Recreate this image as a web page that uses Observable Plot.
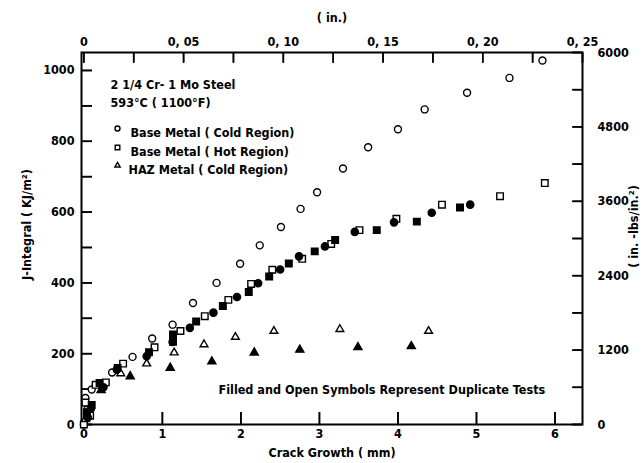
<!DOCTYPE html>
<html>
<head>
<meta charset="utf-8">
<script src="https://cdn.jsdelivr.net/npm/d3@7"></script>
<script src="https://cdn.jsdelivr.net/npm/@observablehq/plot@0.6"></script>
<style>
  html, body { margin: 0; padding: 0; background: #fff; }
  svg { display: block; }
</style>
</head>
<body>
<div id="chart"></div>
<script>
// ---- data (crack growth mm, J-integral kJ/m^2) ----
const openCircles = [[0,0],[0.02,75],[0.10,99],[0.36,147],[0.62,191],[0.87,243],[1.13,282],[1.39,343],[1.69,400],[1.99,454],[2.24,506],[2.51,558],[2.76,609],[2.97,656],[3.30,723],[3.62,783],[4.00,834],[4.34,890],[4.88,937],[5.42,979],[5.84,1028]];
const filledCircles = [[0.05,20],[0.09,45],[0.25,105],[0.42,155],[0.80,193],[1.13,233],[1.35,273],[1.65,316],[1.95,360],[2.22,399],[2.50,438],[2.74,475],[3.07,503],[3.45,544],[3.95,571],[4.43,598],[4.92,621]];
const openSquares = [[0,0],[0.02,62],[0.05,42],[0.08,25],[0.15,112],[0.28,119],[0.50,172],[0.90,218],[1.23,264],[1.54,306],[1.84,352],[2.13,397],[2.40,437],[2.78,468],[3.15,510],[3.51,549],[3.98,581],[4.56,621],[5.30,645],[5.87,682]];
const filledSquares = [[0.04,35],[0.10,55],[0.20,117],[0.43,160],[0.83,204],[1.135,234],[1.135,254],[1.43,291],[1.77,335],[2.10,374],[2.36,418],[2.61,455],[2.94,489],[3.20,521],[3.73,549],[4.24,573],[4.79,613]];
const openTriangles = [[0.02,15],[0.47,144],[0.80,172],[1.15,203],[1.53,226],[1.93,247],[2.42,264],[3.26,269],[4.39,264]];
const filledTriangles = [[0.22,97],[0.59,136],[1.10,160],[1.63,178],[2.17,203],[2.75,211],[3.49,218],[4.17,221]];

// ---- axes / labels ----
const bottomTicks = [0, 1, 2, 3, 4, 5, 6];
const topTickInches = [0, 0.025, 0.05, 0.075, 0.10, 0.125, 0.15, 0.175, 0.20, 0.225, 0.25];
const topLabelInches = [0, 0.05, 0.10, 0.15, 0.20, 0.25];
const topLabels = ["0", "0, 05", "0, 10", "0, 15", "0, 20", "0, 25"];
const leftTicks = [0, 100, 200, 300, 400, 500, 600, 700, 800, 900, 1000];
const leftLabels = [0, 200, 400, 600, 800, 1000];
const rightTicks = [0, 600, 1200, 1800, 2400, 3000, 3600, 4200, 4800, 5400, 6000];
const rightLabels = [0, 1200, 2400, 3600, 4800, 6000];
const lbToKJ = 0.175127; // in-lb/in^2 -> kJ/m^2
const mmPerIn = 25.4;

const titleLines = ["2 1/4 Cr- 1 Mo Steel", "593°C ( 1100°F)"];
const legendItems = ["Base Metal ( Cold Region)", "Base Metal ( Hot Region)", "HAZ Metal ( Cold Region)"];
const legendSymbols = ["circle", "square", "triangle"];
const noteText = "Filled and Open Symbols Represent Duplicate Tests";

const xMin = -0.03;
const xMax = topTickInches[topTickInches.length - 1] * mmPerIn;
const yMax = rightTicks[rightTicks.length - 1] * lbToKJ;

const font = "'DejaVu Sans Condensed', 'DejaVu Sans', sans-serif";
const FS = 12.5;
const W = 643, H = 463, ML = 81, MR = 61, MT = 52, MB = 39;
const plotW = W - ML - MR, plotH = H - MT - MB;
// tick lengths expressed in scale units (pixel length / plot size * domain span)
const yLen = px => px / plotH * yMax;
const xLen = px => px / plotW * (xMax - xMin);

const near = (a, b) => Math.abs(a - b) < 1e-6;
const dotOpts = (sym, fill, r) => ({x: d => d[0], y: d => d[1], symbol: sym, r, fill, stroke: "black", strokeWidth: 1.4});
const txt = (extra) => ({text: d => d, fontSize: FS, fontWeight: "bold", ...extra});
const legendDot = (sym, r, dy) => Plot.dot([sym], {frameAnchor: "top-left", symbol: sym, r, fill: "white", stroke: "black", strokeWidth: 1.4, dx: 36, dy});
const tk = {stroke: "black", strokeWidth: 1.6};

const chart = Plot.plot({
  width: W,
  height: H,
  marginLeft: ML,
  marginRight: MR,
  marginTop: MT,
  marginBottom: MB,
  style: {fontFamily: font, fontSize: FS + "px", color: "black", background: "white"},
  x: {domain: [xMin, xMax]},
  y: {domain: [0, yMax]},
  marks: [
    Plot.frame({stroke: "black", strokeWidth: 2}),
    // inward ticks as short rules in scale space
    Plot.ruleX(bottomTicks, {x: d => d, y1: 0, y2: yLen(12), ...tk}),
    Plot.ruleX(topTickInches, {x: d => d * mmPerIn, y1: yMax, y2: yMax - yLen(10), ...tk}),
    Plot.ruleY(leftTicks, {y: d => d, x1: xMin, x2: xMin + xLen(11), ...tk}),
    Plot.ruleY(rightTicks, {y: d => d * lbToKJ, x1: xMax, x2: xMax - xLen(10), ...tk}),
    // axes: inward ticks + labels
    Plot.axisX({anchor: "bottom", ticks: bottomTicks, tickSize: -12, tickPadding: 17, tickFormat: d => String(d),
      fontSize: FS, fontWeight: "bold", label: null, ...tk}),
    Plot.axisX({anchor: "top", ticks: topTickInches.map(d => d * mmPerIn), tickSize: -10, tickPadding: 17,
      tickFormat: d => { const i = topLabelInches.findIndex(v => near(v * mmPerIn, d)); return i < 0 ? "" : topLabels[i]; },
      fontSize: FS, fontWeight: "bold", label: null, ...tk}),
    Plot.axisY({anchor: "left", ticks: leftTicks, tickSize: -11, tickPadding: 18,
      tickFormat: d => leftLabels.includes(d) ? String(d) : "", fontSize: FS, fontWeight: "bold", label: null, ...tk}),
    Plot.axisY({anchor: "right", ticks: rightTicks.map(d => d * lbToKJ), tickSize: -10, tickPadding: 25,
      tickFormat: d => { const v = Math.round(d / lbToKJ); return rightLabels.includes(v) ? String(v) : ""; },
      fontSize: FS, fontWeight: "bold", label: null, ...tk}),
    // axis titles
    Plot.text(["Crack Growth ( mm)"], txt({frameAnchor: "bottom", textAnchor: "middle", dy: 32})),
    Plot.text(["( in.)"], txt({frameAnchor: "top", textAnchor: "middle", dy: -39})),
    Plot.text(["J-Integral ( KJ/m²)"], txt({frameAnchor: "left", textAnchor: "middle", rotate: -90, dx: -55, dy: -14})),
    Plot.text(["( in. -lbs/in.²)"], txt({frameAnchor: "right", textAnchor: "middle", rotate: -90, dx: 51, dy: -12})),
    // annotation
    Plot.text([titleLines[0]], txt({frameAnchor: "top-left", textAnchor: "start", dx: 29, dy: 28})),
    Plot.text([titleLines[1]], txt({frameAnchor: "top-left", textAnchor: "start", dx: 29, dy: 46})),
    Plot.text([legendItems[0]], txt({frameAnchor: "top-left", textAnchor: "start", dx: 49, dy: 76})),
    Plot.text([legendItems[1]], txt({frameAnchor: "top-left", textAnchor: "start", dx: 49, dy: 95})),
    Plot.text([legendItems[2]], txt({frameAnchor: "top-left", textAnchor: "start", dx: 47, dy: 113})),
    legendDot(legendSymbols[0], 2.5, 76),
    legendDot(legendSymbols[1], 2.6, 95),
    legendDot(legendSymbols[2], 2.0, 113),
    Plot.text([noteText], txt({frameAnchor: "bottom-left", textAnchor: "start", dx: 137, dy: -31})),
    // data
    Plot.dot(openCircles, dotOpts("circle", "white", 3.5)),
    Plot.dot(openSquares, dotOpts("square", "white", 3.7)),
    Plot.dot(openTriangles, dotOpts("triangle", "white", 2.9)),
    Plot.dot(filledCircles, dotOpts("circle", "black", 3.6)),
    Plot.dot(filledSquares, dotOpts("square", "black", 3.7)),
    Plot.dot(filledTriangles, dotOpts("triangle", "black", 3.0))
  ]
});
document.getElementById("chart").appendChild(chart);
</script>
</body>
</html>
